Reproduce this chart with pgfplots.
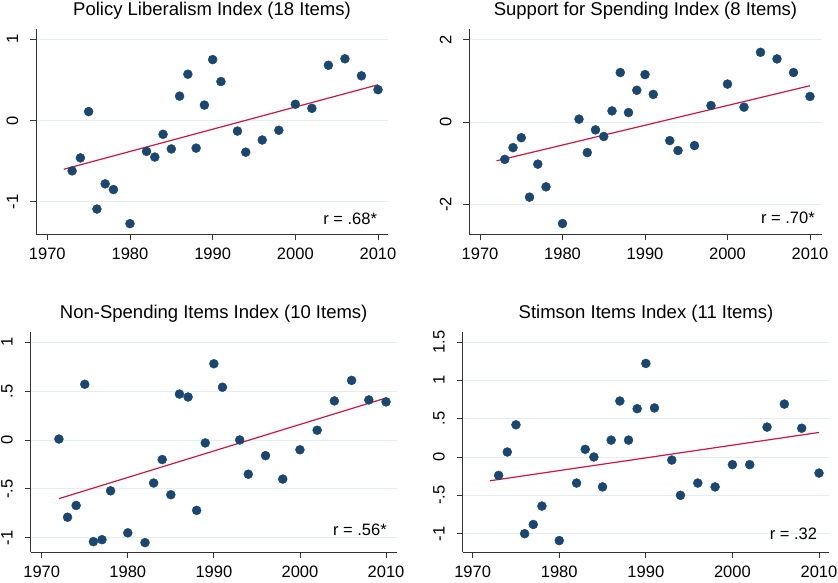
\documentclass[border=0pt]{standalone}
\usepackage{fontspec}
\setmainfont{Liberation Sans}
\usepackage{pgfplots}
\pgfplotsset{compat=1.18}
\definecolor{dotc}{RGB}{26,71,111}
\definecolor{fitc}{RGB}{206,22,64}
\definecolor{gridc}{RGB}{228,237,240}
\pgfplotsset{stata/.style={
  scale only axis, anchor=south west, clip=false,
  axis x line=bottom, axis y line=left,
  axis line style={-, black!80, line width=0.8pt},
  tick align=outside, major tick length=6pt,
  tick style={black!80, line width=0.8pt},
  xtick={1970,1980,1990,2000,2010},
  xticklabels={1970,1980,1990,2000,2010},
  ymajorgrids, grid style={gridc, line width=0.9pt},
  /pgf/number format/assume math mode=true,
  tick label style={font=\fontsize{16.5}{19}\selectfont},
  yticklabel style={rotate=90, anchor=base, inner sep=0pt},
  xticklabel style={anchor=base, inner sep=0pt},
  yticklabel shift=12pt,
  xticklabel shift=19pt,
  title style={font=\fontsize{18.5}{21}\selectfont, at={(0.5,1)}, anchor=base, yshift=7.5pt, inner sep=0pt},
}}
\begin{document}
\begin{tikzpicture}
\path[use as bounding box] (0,0) rectangle (838pt,582pt);
% Panel 1
\begin{axis}[stata, at={(36pt,347.7pt)}, width=352pt, height=205pt,
  xmin=1968.63, xmax=2011.21, ymin=-1.401, ymax=1.123,
  ytick={-1,0,1}, yticklabels={-1,0,1},
  title={Policy Liberalism Index (18 Items)}]
\addplot[fitc, line width=1.2pt] coordinates {(1972,-0.60) (2010,0.44)};
\addplot[only marks, mark=*, mark size=4.5pt, mark options={fill=dotc, draw=dotc}] table {
x y
1973 -0.62
1974 -0.46
1975 0.11
1976 -1.09
1977 -0.78
1978 -0.85
1980 -1.27
1982 -0.38
1983 -0.45
1984 -0.17
1985 -0.35
1986 0.30
1987 0.57
1988 -0.34
1989 0.19
1990 0.75
1991 0.48
1993 -0.13
1994 -0.39
1996 -0.24
1998 -0.12
2000 0.20
2002 0.15
2004 0.68
2006 0.76
2008 0.55
2010 0.38
};
\node[anchor=base east, inner sep=0pt, font=\fontsize{16.5}{19}\selectfont] at (axis cs:2009.9,-1.278) {r = .68*};
\end{axis}
% Panel 2
\begin{axis}[stata, at={(469.3pt,347.7pt)}, width=352.4pt, height=205pt,
  xmin=1968.70, xmax=2011.42, ymin=-2.72, ymax=2.247,
  ytick={-2,0,2}, yticklabels={-2,0,2},
  title={Support for Spending Index (8 Items)}]
\addplot[fitc, line width=1.2pt] coordinates {(1972,-0.94) (2010,0.88)};
\addplot[only marks, mark=*, mark size=4.5pt, mark options={fill=dotc, draw=dotc}] table {
x y
1973 -0.905
1974 -0.62
1975 -0.38
1976 -1.82
1977 -1.02
1978 -1.57
1980 -2.46
1982 0.07
1983 -0.74
1984 -0.19
1985 -0.35
1986 0.27
1987 1.20
1988 0.23
1989 0.77
1990 1.15
1991 0.67
1993 -0.45
1994 -0.69
1996 -0.57
1998 0.40
2000 0.92
2002 0.36
2004 1.69
2006 1.53
2008 1.20
2010 0.62
};
\node[anchor=base east, inner sep=0pt, font=\fontsize{16.5}{19}\selectfont] at (axis cs:2010.6,-2.456) {r = .70*};
\end{axis}
% Panel 3
\begin{axis}[stata, at={(30.7pt,29.7pt)}, width=366pt, height=220.6pt,
  xmin=1968.72, xmax=2011.24, ymin=-1.149, ymax=1.108,
  ytick={-1,-0.5,0,0.5,1}, yticklabels={-1,-.5,0,.5,1},
  title={Non-Spending Items Index (10 Items)}]
\addplot[fitc, line width=1.2pt] coordinates {(1972,-0.60) (2010,0.43)};
\addplot[only marks, mark=*, mark size=4.5pt, mark options={fill=dotc, draw=dotc}] table {
x y
1972 0.01
1973 -0.79
1974 -0.67
1975 0.57
1976 -1.04
1977 -1.02
1978 -0.52
1980 -0.95
1982 -1.05
1983 -0.44
1984 -0.20
1985 -0.56
1986 0.47
1987 0.44
1988 -0.72
1989 -0.03
1990 0.78
1991 0.54
1993 0.00
1994 -0.35
1996 -0.16
1998 -0.40
2000 -0.10
2002 0.10
2004 0.40
2006 0.61
2008 0.41
2010 0.39
};
\node[anchor=base east, inner sep=0pt, font=\fontsize{16.5}{19}\selectfont] at (axis cs:2010.1,-0.98) {r = .56*};
\end{axis}
% Panel 4
\begin{axis}[stata, at={(462.7pt,29.7pt)}, width=366.6pt, height=220.6pt,
  xmin=1968.85, xmax=2011.19, ymin=-1.243, ymax=1.634,
  ytick={-1,-0.5,0,0.5,1,1.5}, yticklabels={-1,-.5,0,.5,1,1.5},
  title={Stimson Items Index (11 Items)}]
\addplot[fitc, line width=1.2pt] coordinates {(1972,-0.31) (2010,0.32)};
\addplot[only marks, mark=*, mark size=4.5pt, mark options={fill=dotc, draw=dotc}] table {
x y
1973 -0.24
1974 0.065
1975 0.42
1976 -1.00
1977 -0.88
1978 -0.64
1980 -1.09
1982 -0.34
1983 0.10
1984 0.00
1985 -0.39
1986 0.22
1987 0.73
1988 0.22
1989 0.63
1990 1.22
1991 0.64
1993 -0.04
1994 -0.50
1996 -0.34
1998 -0.39
2000 -0.10
2002 -0.10
2004 0.39
2006 0.69
2008 0.375
2010 -0.21
};
\node[anchor=base east, inner sep=0pt, font=\fontsize{16.5}{19}\selectfont] at (axis cs:2009.8,-1.08) {r = .32};
\end{axis}
\end{tikzpicture}
\end{document}
